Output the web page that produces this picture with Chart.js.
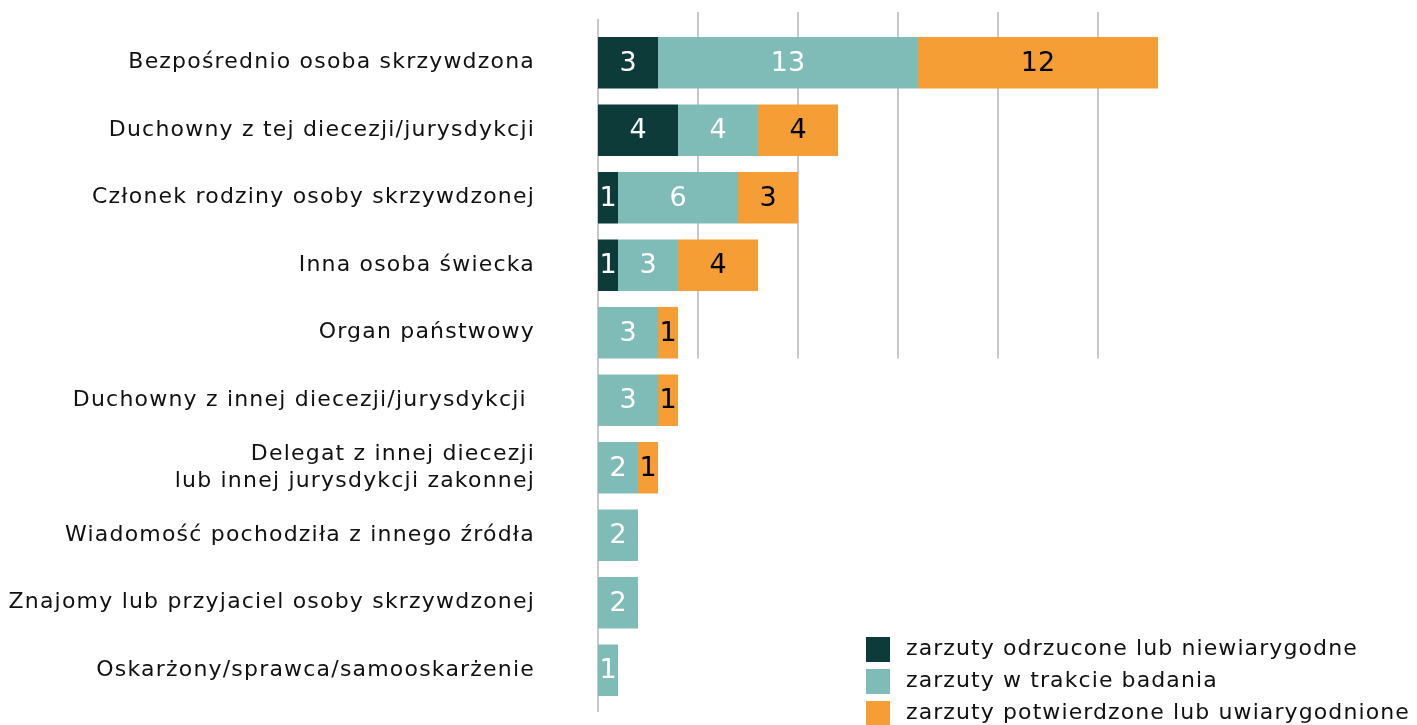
<!DOCTYPE html>
<html>
<head>
<meta charset="utf-8">
<script src="https://cdn.jsdelivr.net/npm/chart.js@4"></script>
<style>
  html, body { margin: 0; padding: 0; background: #fff; }
  #wrap { width: 1417px; height: 725px; }
</style>
</head>
<body>
<div id="wrap"><canvas id="chartZgloszenia" width="1417" height="725"></canvas></div>
<script>
// === Dane ===
const kategorie = [
  "Bezpośrednio osoba skrzywdzona",
  "Duchowny z tej diecezji/jurysdykcji",
  "Członek rodziny osoby skrzywdzonej",
  "Inna osoba świecka",
  "Organ państwowy",
  "Duchowny z innej diecezji/jurysdykcji ",
  ["Delegat z innej diecezji", "lub innej jurysdykcji zakonnej"],
  "Wiadomość pochodziła z innego źródła",
  "Znajomy lub przyjaciel osoby skrzywdzonej",
  "Oskarżony/sprawca/samooskarżenie",
];
const odrzucone = [3, 4, 1, 1, 0, 0, 0, 0, 0, 0];
const wTrakcie = [13, 4, 6, 3, 3, 3, 2, 2, 2, 1];
const potwierdzone = [12, 4, 3, 4, 1, 1, 1, 0, 0, 0];
const nazwySerii = [
  "zarzuty odrzucone lub niewiarygodne",
  "zarzuty w trakcie badania",
  "zarzuty potwierdzone lub uwiarygodnione",
];
const kolory = ["#0d3b3a", "#80bcb7", "#f49e35"];
const koloryEtykiet = ["#ffffff", "#ffffff", "#000000"];
const liniePomocnicze = [5, 10, 15, 20, 25];

const FONT = "'DejaVu Sans', sans-serif";

// odstępy między literami (szeroki krój z oryginału)
const odstepyPlugin = {
  id: "odstepy",
  beforeDraw(chart) {
    chart.ctx.letterSpacing = "1.2px";
  },
};

// linie siatki tylko w górnej części (do 5. kategorii)
const siatkaPlugin = {
  id: "siatka",
  beforeDatasetsDraw(chart) {
    const ctx = chart.ctx;
    const x = chart.scales.x;
    const area = chart.chartArea;
    const bar = chart.getDatasetMeta(1).data[4];
    const dol = bar.y + bar.height / 2;
    ctx.save();
    ctx.strokeStyle = "#c8c8c8";
    ctx.lineWidth = 2;
    liniePomocnicze.forEach(function (v) {
      const px = Math.round(x.getPixelForValue(v));
      ctx.beginPath();
      ctx.moveTo(px, area.top - 17);
      ctx.lineTo(px, dol);
      ctx.stroke();
    });
    const x0 = Math.round(x.getPixelForValue(0));
    ctx.beginPath();
    ctx.moveTo(x0, area.top - 10);
    ctx.lineTo(x0, area.bottom + 8);
    ctx.stroke();
    ctx.restore();
  },
};

// wartości na słupkach
const etykietyPlugin = {
  id: "etykiety",
  afterDatasetsDraw(chart) {
    const ctx = chart.ctx;
    ctx.save();
    ctx.letterSpacing = "0px";
    ctx.font = "27px " + FONT;
    ctx.textAlign = "center";
    ctx.textBaseline = "middle";
    chart.data.datasets.forEach(function (ds, i) {
      const meta = chart.getDatasetMeta(i);
      meta.data.forEach(function (el, j) {
        const v = ds.data[j];
        if (!v) return;
        const p = el.getProps(["x", "y", "base"], true);
        ctx.fillStyle = koloryEtykiet[i];
        ctx.fillText(String(v), (p.x + p.base) / 2, p.y + 1);
      });
    });
    ctx.restore();
  },
};

// legenda w prawym dolnym rogu
const legendaPlugin = {
  id: "legenda",
  afterDraw(chart) {
    const ctx = chart.ctx;
    ctx.save();
    ctx.letterSpacing = "1.1px";
    ctx.font = "22px " + FONT;
    ctx.textBaseline = "middle";
    ctx.textAlign = "left";
    const lx = 866, ly = 649, dy = 32;
    nazwySerii.forEach(function (n, i) {
      const y = ly + i * dy;
      ctx.fillStyle = kolory[i];
      ctx.fillRect(lx, y - 12, 24, 25);
      ctx.fillStyle = "#111";
      ctx.fillText(n, lx + 40, y);
    });
    ctx.restore();
  },
};

document.addEventListener("DOMContentLoaded", function () {
  const ctxZ = document.getElementById("chartZgloszenia");
  const serie = [odrzucone, wTrakcie, potwierdzone];
  new Chart(ctxZ, {
    type: "bar",
    data: {
      labels: kategorie,
      datasets: serie.map(function (d, i) {
        return {
          label: nazwySerii[i],
          data: d,
          backgroundColor: kolory[i],
          borderWidth: 0,
          barPercentage: 0.76,
          categoryPercentage: 1,
        };
      }),
    },
    options: {
      indexAxis: "y",
      responsive: false,
      animation: false,
      layout: { padding: { top: 29, bottom: 21, left: 0, right: 219 } },
      scales: {
        x: {
          stacked: true,
          min: 0,
          max: 30,
          display: false,
        },
        y: {
          stacked: true,
          grid: { display: false, drawTicks: false },
          border: { display: false },
          ticks: {
            padding: 63,
            color: "#111",
            font: { family: FONT, size: 22 },
          },
          afterFit(scale) {
            scale.width = 598;
            scale.paddingTop = 0;
            scale.paddingBottom = 0;
          },
        },
      },
      plugins: {
        legend: { display: false },
        tooltip: { enabled: false },
      },
    },
    plugins: [odstepyPlugin, siatkaPlugin, etykietyPlugin, legendaPlugin],
  });
});
</script>
</body>
</html>
